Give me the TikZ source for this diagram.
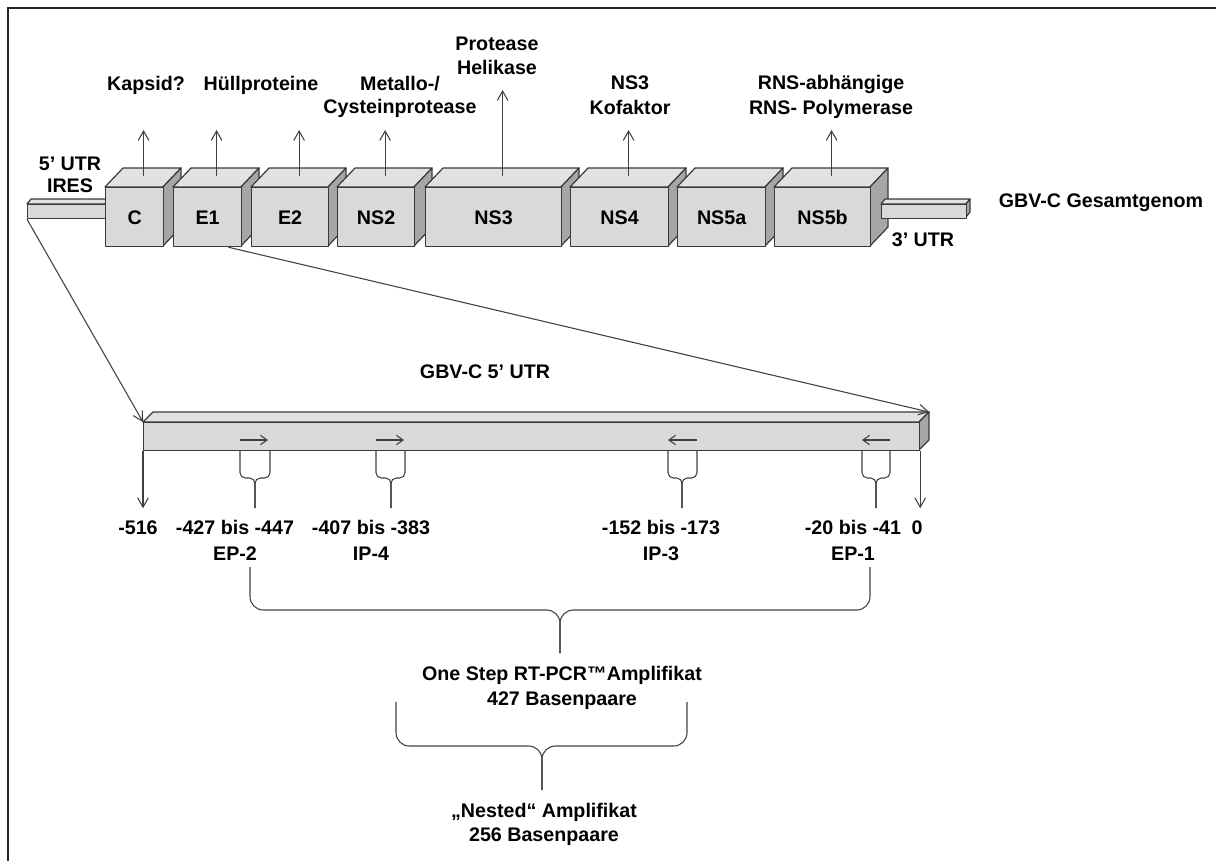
\documentclass[tikz,border=0pt]{standalone}
\usepackage{fontspec}
\setmainfont{Liberation Sans}
\usetikzlibrary{arrows.meta,calc}
\definecolor{frontc}{HTML}{D9D9D9}
\definecolor{topc}{HTML}{E2E2E2}
\definecolor{sidec}{HTML}{A6A6A6}
\definecolor{edgec}{HTML}{3A3A3A}
\definecolor{linec}{HTML}{404040}
\newcommand{\lblfont}[1]{\fontsize{14.75}{#1}\selectfont\bfseries}
\begin{document}
\begin{tikzpicture}[x=0.75pt,y=-0.75pt,
 lbl/.style={font=\lblfont{18}, inner sep=0pt, align=center, anchor=base},
 face/.style={draw=edgec, line width=0.9pt, line join=round},
 front/.style={face, fill=frontc, inner sep=0pt, anchor=north west, font=\lblfont{18}, text height=10.5pt, text depth=0pt},
 uparr/.style={draw=linec, line width=0.8pt, -{Straight Barb[length=7pt,width=8pt]}},
 conn/.style={draw=linec, line width=0.8pt, -{Straight Barb[length=7pt,width=8pt]}},
 primer/.style={draw=linec, line width=0.8pt, -{Straight Barb[length=5pt,width=7pt]}},
 brace/.style={draw=linec, line width=0.8pt, line join=round}
]
\useasboundingbox (0,0) rectangle (1216,861);
\draw[line width=2.2pt, black!85] (8,861) -- (8,8) -- (1216,8);

% 5' UTR stub
\filldraw[face, fill=topc] (27,204) -- (31,199) -- (109,199) -- (105,204) -- cycle;
\node[front, minimum width=58.5pt, minimum height=9.75pt] (utr5) at (27,204) {};

% gene boxes
\foreach \n/\a/\b/\t in {C/105/163/C, E1/173/241/E1, E2/251/328/E2, NS2/337/414/NS2, NS3/425/561/NS3, NS4/570/668/NS4, NS5a/677/765/NS5a, NS5b/774/870/NS5b}{
 \pgfmathsetmacro\w{(\b-\a)*0.75}
 \filldraw[face, fill=topc] (\a,187) -- (\a+18,168) -- (\b+18,168) -- (\b,187) -- cycle;
 \filldraw[face, fill=sidec] (\b,187) -- (\b+18,168) -- (\b+18,227) -- (\b,246) -- cycle;
 \node[front, minimum width=\w pt, minimum height=44.25pt] (\n) at (\a,187) {\t};
}

% 3' UTR stub
\filldraw[face, fill=topc] (881,204) -- (885,199) -- (970,199) -- (966,204) -- cycle;
\filldraw[face, fill=sidec] (966,204) -- (970,199) -- (970,212) -- (966,217) -- cycle;
\node[front, minimum width=63.75pt, minimum height=9.75pt] (utr3) at (881,204) {};

% top labels (anchor = baseline of last line)
\node[lbl, font=\lblfont{16.5}] (l5) at (70,192) {5’ UTR\\IRES};
\node[lbl] (lC) at (146,90) {Kapsid?};
\node[lbl] (lE) at (261,90) {Hüllproteine};
\node[lbl, font=\lblfont{17.25}] (lNS2) at (400,113) {Metallo-/\\Cysteinprotease};
\node[lbl] (lNS3) at (497,74) {Protease\\Helikase};
\node[lbl, font=\lblfont{18.75}] (lNS4) at (630,114) {NS3\\Kofaktor};
\node[lbl, font=\lblfont{18.75}] (lNS5) at (831,114) {RNS-abhängige\\RNS- Polymerase};
\node[lbl] (lgen) at (1101,207) {GBV-C Gesamtgenom};
\node[lbl] (l3) at (923,246) {3’ UTR};

% up arrows
\foreach \n/\h in {C/46, E1/46, E2/46, NS2/46, NS3/86, NS4/46, NS5b/46}{
 \draw[uparr] ($(\n.north)+(9,-11)$) -- ($(\n.north)+(9,-11-\h)$);
}

% lower bar
\node[lbl] (l5u) at (485,378) {GBV-C 5’ UTR};
\filldraw[face, fill=topc] (143,422) -- (153,412) -- (929,412) -- (919,422) -- cycle;
\filldraw[face, fill=sidec] (919,422) -- (929,412) -- (929,440) -- (919,450) -- cycle;
\node[front, minimum width=582pt, minimum height=21pt] (bar) at (143,422) {};
\coordinate (barend) at (929,412);

% zoom connectors
\draw[conn] (utr5.south west) -- (bar.north west);
\draw[conn] ($(E1.south west)!0.8!(E1.south east)$) -- (barend);

% primer arrows
\draw[primer] (240,440) -- (268,440);
\draw[primer] (376,440) -- (404,440);
\draw[primer] (697,440) -- (668,440);
\draw[primer] (890,440) -- (862,440);

% primer braces
\foreach \a/\m/\b in {240/255/270, 376/391/405, 668/682/697, 862/876/890}{
 \draw[brace, rounded corners=4pt] (\a,450) |- (\m,478) -- (\m,508);
 \draw[brace, rounded corners=4pt] (\b,450) |- (\m,478) -- (\m,508);
}

% end arrows
\draw[conn] (bar.south west) -- ++(0,57);
\draw[conn] (bar.south east) -- ++(0,57);

% position labels
\node[lbl] (p516) at (138,534) {-516};
\node[lbl, font=\lblfont{19.5}] (pEP2) at (235,560) {-427 bis -447\\EP-2};
\node[lbl, font=\lblfont{19.5}] (pIP4) at (371,560) {-407 bis -383\\IP-4};
\node[lbl, font=\lblfont{19.5}] (pIP3) at (661,560) {-152 bis -173\\IP-3};
\node[lbl, font=\lblfont{19.5}] (pEP1) at (853,560) {-20 bis -41\\EP-1};
\node[lbl] (p0) at (917,534) {0};

% big braces
\draw[brace, rounded corners=10pt] (250,567) |- (560,610) -- (560,653);
\draw[brace, rounded corners=10pt] (870,567) |- (560,610) -- (560,653);
\node[lbl, font=\lblfont{18.75}] (amp1) at (562,705) {One Step RT-PCR™Amplifikat\\427 Basenpaare};

\draw[brace, rounded corners=10pt] (396,702) |- (542,746) -- (542,790);
\draw[brace, rounded corners=10pt] (687,702) |- (542,746) -- (542,790);
\node[lbl, font=\lblfont{18}] (amp2) at (544,841) {„Nested“ Amplifikat\\256 Basenpaare};
\end{tikzpicture}
\end{document}
